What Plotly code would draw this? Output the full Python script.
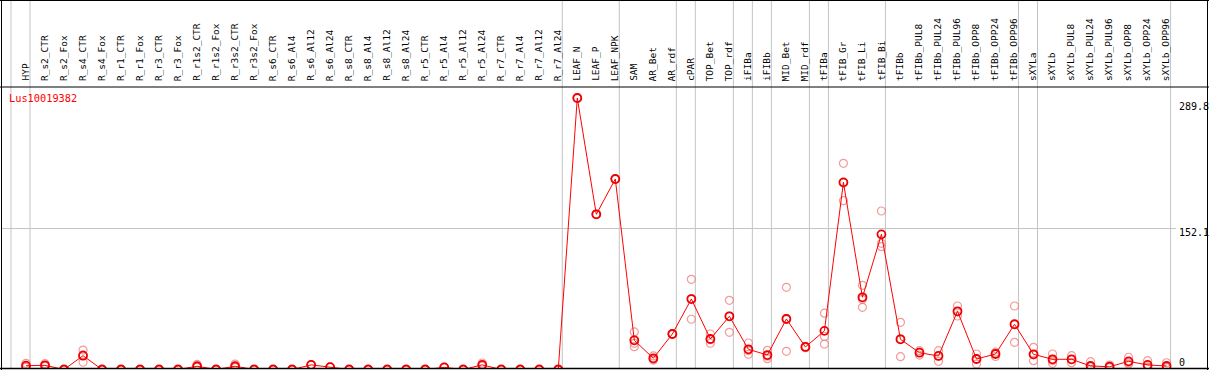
import plotly.graph_objects as go

categories = [
    "HYP", "R_s2_CTR", "R_s2_Fox", "R_s4_CTR", "R_s4_Fox", "R_r1_CTR", "R_r1_Fox",
    "R_r3_CTR", "R_r3_Fox", "R_r1s2_CTR", "R_r1s2_Fox", "R_r3s2_CTR", "R_r3s2_Fox",
    "R_s6_CTR", "R_s6_Al4", "R_s6_Al12", "R_s6_Al24", "R_s8_CTR", "R_s8_Al4",
    "R_s8_Al12", "R_s8_Al24", "R_r5_CTR", "R_r5_Al4", "R_r5_Al12", "R_r5_Al24",
    "R_r7_CTR", "R_r7_Al4", "R_r7_Al12", "R_r7_Al24", "LEAF_N", "LEAF_P", "LEAF_NPK",
    "SAM", "AR_Bet", "AR_rdf", "cPAR", "TOP_Bet", "TOP_rdf", "iFIBa", "iFIBb",
    "MID_Bet", "MID_rdf", "tFIBa", "tFIB_Gr", "tFIB_Li", "tFIB_Bi", "tFIBb",
    "tFIBb_PUL8", "tFIBb_PUL24", "tFIBb_PUL96", "tFIBb_OPP8", "tFIBb_OPP24",
    "tFIBb_OPP96", "sXYLa", "sXYLb", "sXYLb_PUL8", "sXYLb_PUL24", "sXYLb_PUL96",
    "sXYLb_OPP8", "sXYLb_OPP24", "sXYLb_OPP96",
]

mean_values = [
    4.1, 4.5, 0, 14.9, 0, 0, 0, 0, 0, 3.5, 0, 3.5, 0, 0, 0, 5.0, 2.5, 0, 0, 0, 0,
    0, 2.3, 0, 5.0, 0, 0, 0, 0, 292.9, 167.4, 205.5,
    31.5, 12.1, 38.3, 76.0, 32.9, 57.4, 21.8, 15.6, 54.5, 24.3, 41.7,
    201.9, 77.9, 145.8, 32.6, 18.1, 14.6, 62.8, 11.3, 16.7, 48.8,
    16.4, 11.0, 11.0, 3.8, 3.0, 8.8, 4.9, 3.8,
]

rep_a = [
    6.7, 6.3, 0, 21.0, 0, 0, 0, 0, 0, 5.5, 0, 5.8, 0, 0, 0, 5.0, 2.5, 0, 0, 0, 0,
    0, 2.3, 0, 7.0, 0, 0, 0, 0, 292.9, 167.4, 205.5,
    40.5, 14.6, 38.0, 97.3, 38.3, 74.6, 28.6, 20.7, 88.7, 24.5, 60.8,
    222.4, 90.8, 171.0, 50.9, 20.3, 20.3, 68.5, 16.7, 17.4, 68.5,
    23.9, 16.7, 14.9, 8.4, 4.8, 13.2, 9.5, 7.3,
]
rep_b = [
    3.0, 3.6, 0, 7.8, 0, 0, 0, 0, 0, 2.5, 0, 2.4, 0, 0, 0, 5.0, 2.5, 0, 0, 0, 0,
    0, 2.3, 0, 4.0, 0, 0, 0, 0, 292.9, 167.4, 205.5,
    28.2, 10.2, 38.6, 54.2, 28.3, 40.1, 16.4, 11.7, 19.6, 23.5, 35.6,
    182.1, 67.1, 132.5, 13.8, 15.6, 8.8, 57.7, 5.9, 14.0, 29.3,
    9.5, 6.7, 7.4, 3.2, 2.0, 5.9, 2.6, 2.2,
]
rep_c = [
    2.6, 3.6, 0, 15.9, 0, 0, 0, 0, 0, 2.5, 0, 2.3, 0, 0, 0, 5.0, 2.5, 0, 0, 0, 0,
    0, 2.3, 0, 4.0, 0, 0, 0, 0, 292.9, 167.4, 205.5,
    24.6, 11.0, 38.3, 76.5, 32.1, 57.5, 20.4, 14.4, 55.2, 24.9, 27.4,
    201.2, 75.7, 136.1, 33.1, 18.4, 14.7, 62.2, 11.3, 18.7, 48.6,
    15.8, 9.6, 10.7, 0.0, 2.2, 7.3, 2.6, 1.9,
]

group_ends = [-1, 0, 28, 31, 34, 35, 37, 38, 39, 41, 42, 45, 52, 53, 60]
grid_value = 152.1
axis_labels = ["289.8", "152.1", "0"]
axis_label_values = [289.8, 152.1, 0]
gene_name = "Lus10019382"

W, H = 1209, 370
ML, MR, MT, MB = 2, 1, 87, 1
PW, PH = W - ML - MR, H - MT - MB
x0_px, dx_px = 26.0, 19.01
xr = [(ML - x0_px) / dx_px, (W - MR - x0_px) / dx_px]
y_zero_px, slope = 369.5, 0.927
yr = [(y_zero_px - (H - MB)) / slope, (y_zero_px - MT) / slope]

def py(px):  # pixel y -> paper y
    return (H - MB - px) / PH

def pxp(px):  # pixel x -> paper x
    return (px - ML) / PW

x = list(range(len(categories)))
fig = go.Figure()
rep_color = "rgba(240,120,120,0.75)"
for reps in (rep_a, rep_b, rep_c):
    fig.add_trace(go.Scatter(
        x=x, y=reps, mode="markers",
        marker=dict(symbol="circle-open", size=8, color=rep_color, line=dict(width=1.2)),
        hoverinfo="skip", showlegend=False))
fig.add_trace(go.Scatter(
    x=x, y=mean_values, mode="lines+markers",
    line=dict(color="#ff0000", width=1),
    marker=dict(symbol="circle-open", size=8, color="#ee0000", line=dict(width=1.8)),
    showlegend=False))

shapes = []
gray = "#c4c4c4"
for g in group_ends:
    shapes.append(dict(type="line", xref="x", yref="paper", x0=g + 0.21, x1=g + 0.21,
                       y0=0, y1=py(0), line=dict(color=gray, width=1), layer="below"))
shapes.append(dict(type="line", xref="paper", yref="y", x0=0, x1=pxp(1176),
                   y0=grid_value, y1=grid_value, line=dict(color=gray, width=1), layer="below"))
black = "#000000"
shapes += [
    dict(type="line", xref="paper", yref="paper", x0=pxp(0), x1=pxp(W), y0=py(0.5), y1=py(0.5), line=dict(color=black, width=1)),
    dict(type="line", xref="paper", yref="paper", x0=pxp(0), x1=pxp(W), y0=py(87), y1=py(87), line=dict(color=black, width=1)),
    dict(type="line", xref="paper", yref="paper", x0=pxp(0), x1=pxp(W), y0=py(368.5), y1=py(368.5), line=dict(color=black, width=1.5)),
    dict(type="line", xref="paper", yref="paper", x0=pxp(1.5), x1=pxp(1.5), y0=py(0), y1=py(370), line=dict(color=black, width=1)),
    dict(type="line", xref="paper", yref="paper", x0=pxp(1207.5), x1=pxp(1207.5), y0=py(0), y1=py(370), line=dict(color=black, width=1)),
]

mono = "DejaVu Sans Mono"
annotations = []
for i, c in enumerate(categories):
    annotations.append(dict(x=i - 0.05, y=py(83), xref="x", yref="paper", text=c,
                            textangle=-90, showarrow=False, xanchor="center", yanchor="bottom",
                            font=dict(family=mono, size=9.5, color="black")))
label_px = [106.5, 232.5, 362.5]
for t, v, lp in zip(axis_labels, axis_label_values, label_px):
    annotations.append(dict(x=pxp(1177), y=py(lp), xref="paper", yref="paper", text=t,
                            showarrow=False, xanchor="left", yanchor="middle",
                            font=dict(family=mono, size=10, color="black")))
annotations.append(dict(x=pxp(7), y=py(98), xref="paper", yref="paper", text=gene_name,
                        showarrow=False, xanchor="left", yanchor="middle",
                        font=dict(family=mono, size=10.3, color="#ff0000")))

fig.update_layout(
    width=W, height=H,
    margin=dict(l=ML, r=MR, t=MT, b=MB, pad=0, autoexpand=False),
    paper_bgcolor="white", plot_bgcolor="white",
    xaxis=dict(range=xr, showgrid=False, zeroline=False, showticklabels=False, ticks="", showline=False),
    yaxis=dict(range=yr, showgrid=False, zeroline=False, showticklabels=False, ticks="", showline=False),
    shapes=shapes, annotations=annotations, showlegend=False,
)
fig.write_html("out.html", config={"displayModeBar": False},
               post_script="document.body.style.margin='0';document.body.style.overflow='hidden';")
